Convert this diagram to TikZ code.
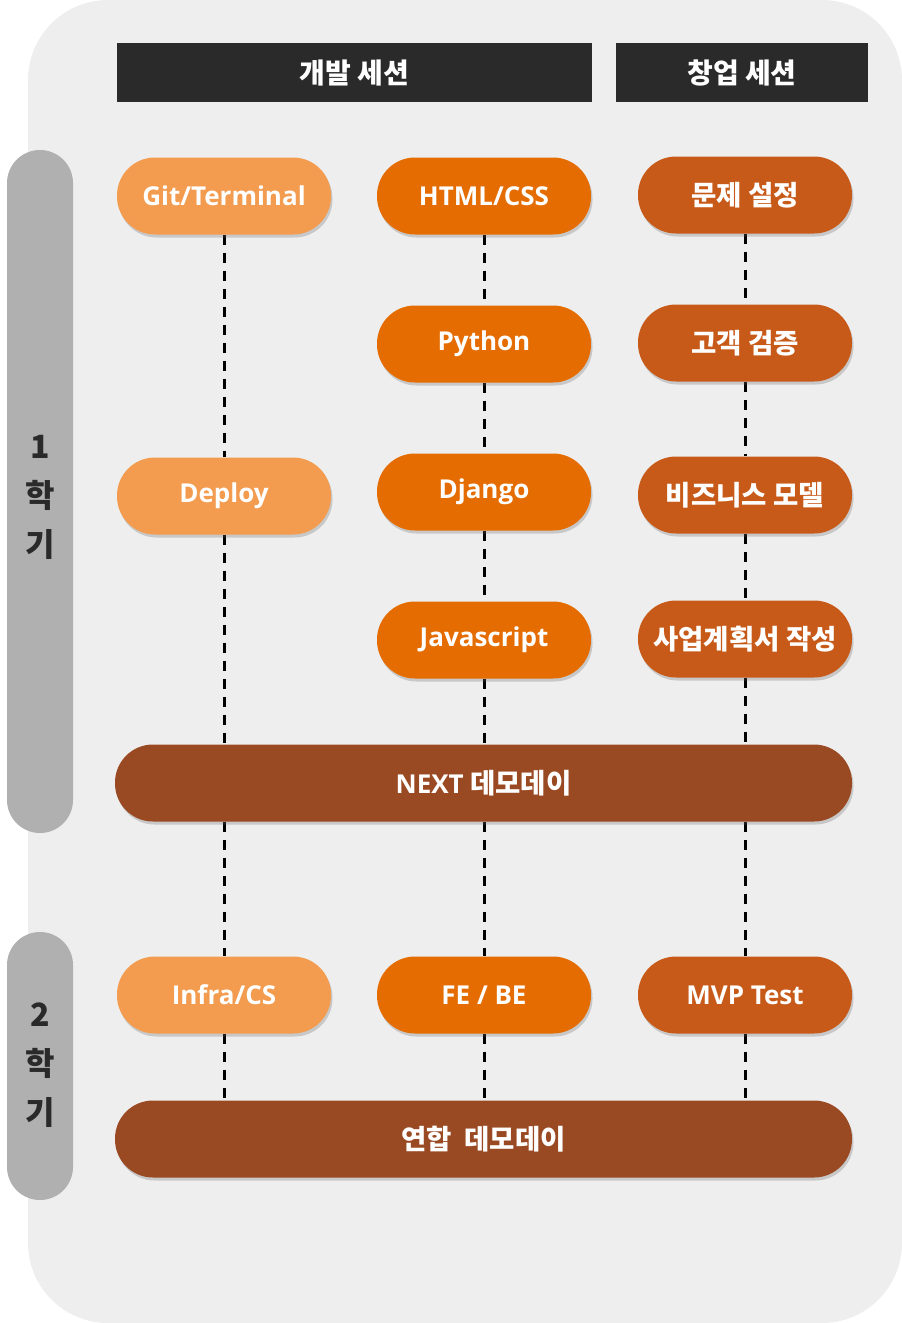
\documentclass[tikz,border=0pt]{standalone}
\usepackage{fontspec}
\setmainfont{Noto Sans CJK KR}
\newfontfamily\latinfont{Open Sans}
\usetikzlibrary{shadows}
\definecolor{bgc}{HTML}{EEEEEE}
\definecolor{hdrc}{HTML}{2A2A2A}
\definecolor{lightor}{HTML}{F39C4F}
\definecolor{midor}{HTML}{E56C00}
\definecolor{darkor}{HTML}{C85A19}
\definecolor{brownc}{HTML}{9A4A23}
\definecolor{semic}{HTML}{B0B0B0}
\pgfdeclarelayer{bglayer}
\pgfdeclarelayer{linelayer}
\pgfsetlayers{bglayer,linelayer,main}
\begin{document}
\begin{tikzpicture}[x=1pt,y=-1pt,
  pill/.style={rectangle, rounded corners=38pt, minimum width=214pt, minimum height=77pt,
    inner sep=0pt, text=white, font=\fontsize{27.5}{30}\selectfont\bfseries,
    drop shadow={opacity=0.28, shadow xshift=1.5pt, shadow yshift=-3pt, fill=black!60}},
  lat/.style={font=\fontsize{26}{30}\latinfont\bfseries},
  colA/.style={pill, fill=lightor},
  colB/.style={pill, fill=midor},
  colC/.style={pill, fill=darkor},
  wide/.style={pill, fill=brownc, minimum width=737pt},
  hdr/.style={rectangle, fill=hdrc, text=white, minimum height=59pt, inner sep=0pt,
    font=\fontsize{28}{30}\selectfont\bfseries},
  semibar/.style={rectangle, fill=semic, rounded corners=33pt, minimum width=66pt, inner sep=0pt},
  semitext/.style={text=hdrc, align=center, inner sep=0pt,
    font=\fontsize{32}{49}\selectfont\bfseries},
  dashline/.style={draw=black, line width=3pt, dash pattern=on 10pt off 8pt}]
\useasboundingbox (0,0) rectangle (902,1323);
\begin{pgfonlayer}{bglayer}
\fill[bgc, rounded corners=80pt] (28,0) rectangle (902,1323);
\end{pgfonlayer}

% headers
\node[hdr, minimum width=475pt] (hdev) at (354.5,72.5) {개발 세션};
\node[hdr, minimum width=252pt] (hbiz) at (742,72.5) {창업 세션};

% semester bars
\node[semibar, minimum height=683pt] (sem1) at (40,491.5) {};
\node[semitext] (sem1t) at (40,497) {1\\학\\기};
\node[semibar, minimum height=268pt] (sem2) at (40,1066) {};
\node[semitext] (sem2t) at (40,1065) {2\\학\\기};

% column A
\node[colA, lat] (git) at (224,196) {Git/Terminal};
\node[colA, lat] (deploy) at (224,496) {Deploy};
\node[colA, lat] (infra) at (224,995) {Infra/CS};
% column B
\node[colB, lat] (html) at (484,196) {HTML/CSS};
\node[colB, lat] (python) at (484,344) {Python};
\node[colB, lat] (django) at (484,492) {Django};
\node[colB, lat] (js) at (484,640) {Javascript};
\node[colB, lat] (febe) at (484,995) {FE / BE};
% column C
\node[colC] (prob) at (745,195) {문제 설정};
\node[colC] (cust) at (745,343) {고객 검증};
\node[colC] (bm) at (745,495) {비즈니스 모델};
\node[colC] (plan) at (745,639) {사업계획서 작성};
\node[colC, lat] (mvp) at (745,995) {MVP Test};
% wide bars
\node[wide] (next) at (483.5,783) {{\fontsize{26}{30}\latinfont\bfseries NEXT} 데모데이};
\node[wide] (union) at (483.5,1139) {연합\ \ 데모데이};

\begin{pgfonlayer}{linelayer}
\draw[dashline] (git.south) -- (deploy.north);
\draw[dashline] (deploy.south) -- (deploy.south |- next.north);
\draw[dashline] (deploy.south |- next.south) -- (infra.north);
\draw[dashline] (infra.south) -- (infra.south |- union.north);
\draw[dashline] (html.south) -- (python.north);
\draw[dashline] (python.south) -- (django.north);
\draw[dashline] (django.south) -- (js.north);
\draw[dashline] (js.south) -- (js.south |- next.north);
\draw[dashline] (js.south |- next.south) -- (febe.north);
\draw[dashline] (febe.south) -- (febe.south |- union.north);
\draw[dashline] (prob.south) -- (cust.north);
\draw[dashline] (cust.south) -- (bm.north);
\draw[dashline] (bm.south) -- (plan.north);
\draw[dashline] (plan.south) -- (plan.south |- next.north);
\draw[dashline] (plan.south |- next.south) -- (mvp.north);
\draw[dashline] (mvp.south) -- (mvp.south |- union.north);
\end{pgfonlayer}
\end{tikzpicture}
\end{document}
